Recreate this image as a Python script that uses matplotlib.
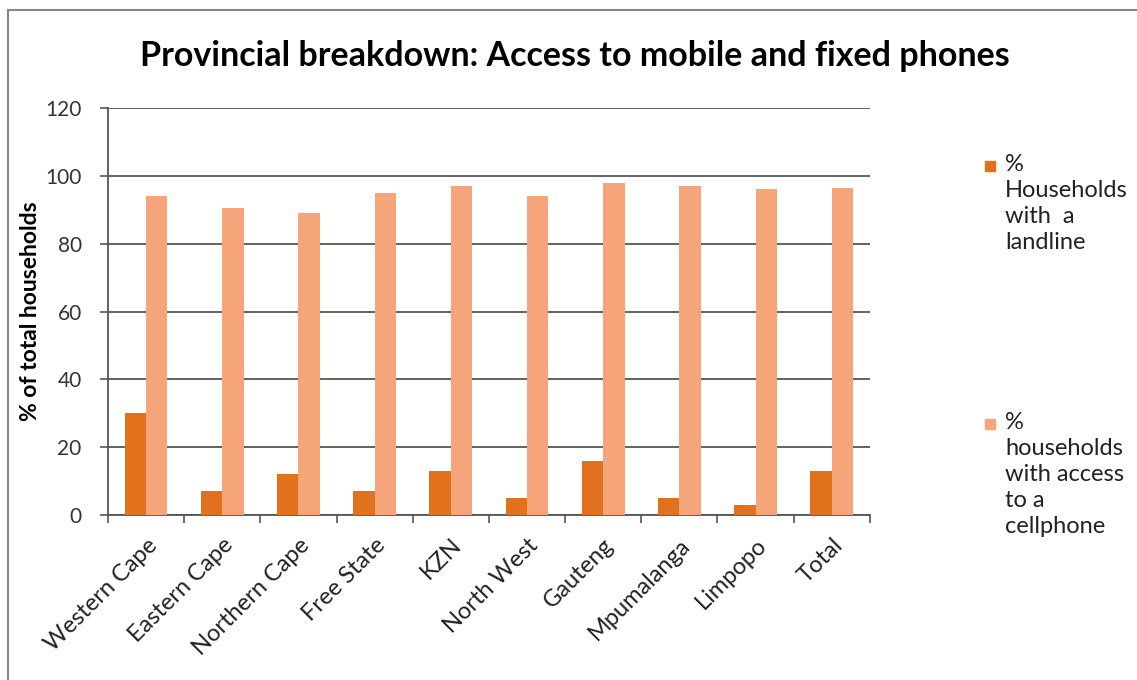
import matplotlib.pyplot as plt
import numpy as np
from matplotlib.patches import Rectangle

plt.rcParams['font.family'] = ['Lato', 'DejaVu Sans']

provinces = ['Western Cape', 'Eastern Cape', 'Northern Cape', 'Free State', 'KZN',
             'North West', 'Gauteng', 'Mpumalanga', 'Limpopo', 'Total']
landline = [30, 7, 12, 7, 13, 5, 16, 5, 3, 13]
cellphone = [94, 90.5, 89, 95, 97, 94, 98, 97, 96, 96.3]

dark = '#E2711D'
light = '#F6A57B'

fig = plt.figure(figsize=(11.37, 6.8), dpi=100)
ax = fig.add_axes([0.095, 0.2426, 0.67, 0.5985])

x = np.arange(len(provinces))
w = 0.28
ax.bar(x - w / 2, landline, w, color=dark, zorder=3)
ax.bar(x + w / 2, cellphone, w, color=light, zorder=3)

ax.set_xlim(-0.5, len(provinces) - 0.5)
ax.set_ylim(0, 120)
ax.set_yticks(range(0, 121, 20))
ax.yaxis.grid(True, color='#555555', linewidth=1.3, zorder=0)
ax.set_axisbelow(True)

# ticks on the x axis sit between the categories
ax.set_xticks(np.arange(-0.5, len(provinces)), minor=False)
ax.set_xticklabels([])
ax.set_xticks(x, minor=True)
ax.set_xticklabels(provinces, minor=True, rotation=45, ha='right',
                   rotation_mode='anchor', fontsize=17)
ax.tick_params(axis='x', which='minor', length=0, pad=14, labelcolor='#222222')
ax.tick_params(axis='x', which='major', length=6, color='#555555', width=1.2)
ax.tick_params(axis='y', length=6, color='#555555', width=1.2, labelsize=15,
               pad=13, labelcolor='#333333')

for side in ['top', 'right']:
    ax.spines[side].set_visible(False)
for side in ['left', 'bottom']:
    ax.spines[side].set_color('#555555')
    ax.spines[side].set_linewidth(1.3)

ax.set_ylabel('% of total households', fontsize=16.5, fontweight='bold', labelpad=3)
fig.text(0.506, 0.918, 'Provincial breakdown: Access to mobile and fixed phones',
         ha='center', va='center', fontsize=24.5, fontweight='bold')

# legend drawn by hand, two entries far apart
entries = [(dark, '%\nHouseholds\nwith  a\nlandline', 0.774),
           (light, '%\nhouseholds\nwith access\nto a\ncellphone', 0.394)]
for color, label, ytop in entries:
    fig.add_artist(Rectangle((0.8665, ytop - 0.025), 0.0085, 0.0145,
                             transform=fig.transFigure, color=color))
    fig.text(0.884, ytop, label, ha='left', va='top', fontsize=17, linespacing=1.3,
             color='#222222')

# thin grey frame around the chart
fig.add_artist(Rectangle((0.007, -0.01), 1.0, 0.995, transform=fig.transFigure,
                         fill=False, edgecolor='#888888', linewidth=1.5))

fig.savefig('out.png', dpi=100)
